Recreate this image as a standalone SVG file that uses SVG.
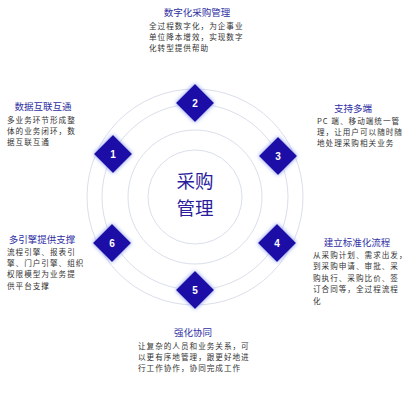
<svg xmlns="http://www.w3.org/2000/svg" width="408" height="400" viewBox="0 0 408 400">
<defs>
<style>
.ring{fill:none;stroke:#dadfea;stroke-width:1}
.dia{fill:#1d0fa6}
.num{fill:#fff;font-family:"Liberation Sans",Arial,sans-serif;font-size:10px;font-weight:bold;text-anchor:middle}
.title{fill:#3030a4;font-family:"Noto Sans CJK SC","Noto Sans CJK JP",sans-serif;font-size:9.5px;text-anchor:middle}
.body{fill:#333;font-family:"Noto Sans CJK SC","Noto Sans CJK JP",sans-serif;font-size:7.6px;letter-spacing:1px}
.center{fill:#2a1c9c;font-family:"Noto Sans CJK SC","Noto Sans CJK JP",sans-serif;font-size:18.5px;text-anchor:middle}
</style>
<filter id="glow" x="-50%" y="-50%" width="200%" height="200%">
<feGaussianBlur in="SourceAlpha" stdDeviation="2.2" result="b"/>
<feFlood flood-color="#7d8cf0" result="c"/>
<feComposite in="c" in2="b" operator="in" result="g"/>
<feMerge><feMergeNode in="g"/><feMergeNode in="SourceGraphic"/></feMerge>
</filter>
<path id="d" d="M0,-19 L19,0 L0,19 L-19,0 Z"/>
</defs>
<rect width="408" height="400" fill="#fff"/>
<g id="connectors">
<circle class="ring" cx="195" cy="197" r="108"/>
<circle class="ring" cx="195" cy="197" r="93"/>
<circle class="ring" cx="195" cy="197" r="67"/>
<circle class="ring" cx="195" cy="197" r="47" fill="#fff"/>
</g>
<g id="center">
<text class="center" x="195" y="188">采购</text>
<text class="center" x="195" y="215">管理</text>
</g>
<g id="node1">
<use href="#d" class="dia" x="113" y="154" filter="url(#glow)"/>
<text class="num" x="113" y="157.5">1</text>
<text class="title" x="43" y="110">数据互联互通</text>
<text class="body" x="7" y="123">多业务环节形成整</text>
<text class="body" x="7" y="134">体的业务闭环，数</text>
<text class="body" x="7" y="145">据互联互通</text>
</g>
<g id="node2">
<use href="#d" class="dia" x="195" y="103" filter="url(#glow)"/>
<text class="num" x="195" y="106.5">2</text>
<text class="title" x="197" y="16">数字化采购管理</text>
<text class="body" x="149" y="29">全过程数字化，为企事业</text>
<text class="body" x="149" y="40">单位降本增效，实现数字</text>
<text class="body" x="149" y="51">化转型提供帮助</text>
</g>
<g id="node3">
<use href="#d" class="dia" x="278" y="156" filter="url(#glow)"/>
<text class="num" x="278" y="159.5">3</text>
<text class="title" x="353" y="112">支持多端</text>
<text class="body" x="317" y="124">PC 端、移动端统一管</text>
<text class="body" x="317" y="135">理，让用户可以随时随</text>
<text class="body" x="317" y="146">地处理采购相关业务</text>
</g>
<g id="node4">
<use href="#d" class="dia" x="277" y="243" filter="url(#glow)"/>
<text class="num" x="277" y="246.5">4</text>
<text class="title" x="357" y="246">建立标准化流程</text>
<text class="body" x="313" y="258">从采购计划、需求出发，</text>
<text class="body" x="313" y="269">到采购申请、审批、采</text>
<text class="body" x="313" y="281">购执行、采购比价、签</text>
<text class="body" x="313" y="292">订合同等，全过程流程</text>
<text class="body" x="313" y="304">化</text>
</g>
<g id="node5">
<use href="#d" class="dia" x="195" y="290" filter="url(#glow)"/>
<text class="num" x="195" y="293.5">5</text>
<text class="title" x="193" y="336">强化协同</text>
<text class="body" x="138" y="349">让复杂的人员和业务关系，可</text>
<text class="body" x="138" y="360">以更有序地管理，跟更好地进</text>
<text class="body" x="138" y="371">行工作协作，协同完成工作</text>
</g>
<g id="node6">
<use href="#d" class="dia" x="112" y="243" filter="url(#glow)"/>
<text class="num" x="112" y="246.5">6</text>
<text class="title" x="42" y="243">多引擎提供支撑</text>
<text class="body" x="7" y="255">流程引擎、报表引</text>
<text class="body" x="7" y="266">擎、门户引擎、组织</text>
<text class="body" x="7" y="277">权限模型为业务提</text>
<text class="body" x="7" y="289">供平台支撑</text>
</g>
</svg>
